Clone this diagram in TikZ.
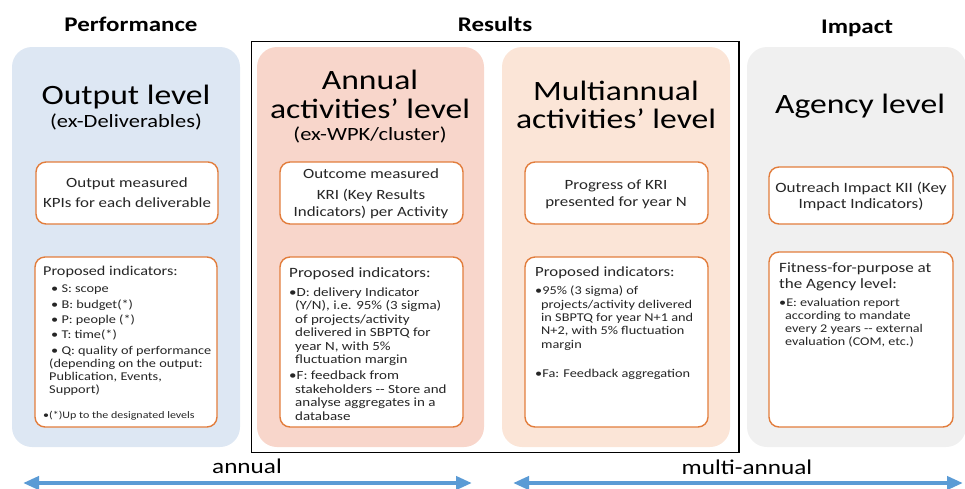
\documentclass[tikz,border=0pt]{standalone}
\usepackage{fontspec}
\setmainfont{Carlito}[FakeStretch=1.2]
\usetikzlibrary{arrows.meta}
\definecolor{pblue}{HTML}{DDE7F3}
\definecolor{psalmon}{HTML}{F8D6CB}
\definecolor{ppeach}{HTML}{FBE5D7}
\definecolor{pgrey}{HTML}{F0F0F0}
\definecolor{bord}{HTML}{E27D3C}
\definecolor{arr}{HTML}{5B9BD5}
\definecolor{txt}{HTML}{262626}
\newcommand{\fs}[2]{\fontsize{#1}{#2}\selectfont}
\tikzset{
  panel/.style={rounded corners=20pt},
  wbox/.style={draw=bord, line width=1.4pt, fill=white, rounded corners=10pt},
  heading/.style={font=\fs{20.8}{24}\bfseries, anchor=base, inner sep=0pt},
  title/.style={font=\fs{28}{32}, anchor=base, inner sep=0pt},
  subtitle/.style={font=\fs{18.7}{22}, anchor=base, inner sep=0pt},
  boxtext/.style={font=\fs{14.1}{17}, text=txt, align=center, anchor=base, inner sep=0pt},
  listtext/.style={font=\fs{12.5}{13.5}, text=txt, align=left, anchor=base west, inner sep=0pt},
  axislabel/.style={font=\fs{21}{24}, anchor=base, inner sep=0pt},
  timearrow/.style={draw=arr, line width=4.5pt, {Triangle[length=16pt,width=13pt]}-{Triangle[length=16pt,width=13pt]}},
}
\begin{document}
\begin{tikzpicture}[x=1pt,y=-1pt]
\useasboundingbox (0,0) rectangle (965,488);
\clip (0,0) rectangle (965,488);
% panels
\fill[pblue,panel] (12,47) rectangle (240,447);
\fill[psalmon,panel] (257,47) rectangle (484,447);
\fill[ppeach,panel] (502,47) rectangle (730,447);
\fill[pgrey,panel] (747,47) rectangle (966,447);
% results frame
\draw[line width=1.6pt] (251.5,41.5) rectangle (739,452.5);
% headings
\node[heading] (hperf) at (131,31) {Performance};
\node[heading] (hres) at (495,31) {Results};
\node[heading] (himp) at (857,33) {Impact};
% titles
\node[title] (t1) at (126,104) {Output level};
\node[subtitle] (s1) at (126,127) {(ex-Deliverables)};
\node[title] (t2a) at (370,89) {Annual};
\node[title] (t2b) at (370,118) {activities’ level};
\node[subtitle] (s2) at (370,140) {(ex-WPK/cluster)};
\node[title] (t3a) at (616,100) {Multiannual};
\node[title] (t3b) at (616,128) {activities’ level};
\node[title] (t4) at (860,113) {Agency level};
% white boxes
\draw[wbox] (36,162) rectangle (218,224);
\draw[wbox] (35,257) rectangle (217,427);
\draw[wbox] (280,162) rectangle (463,224);
\draw[wbox] (280,257) rectangle (463,427);
\draw[wbox] (525,162) rectangle (708,224);
\draw[wbox] (525,257) rectangle (708,427);
\draw[wbox] (769,167) rectangle (953,224);
\draw[wbox] (769,252) rectangle (953,427);
% box texts (top) -- anchor base = baseline of the last line
\node[boxtext] (b1a) at (127,207) {Output measured\\[3pt]KPIs for each deliverable};
\node[boxtext] (b2a) at (371,216) {Outcome measured\\[4pt]KRI (Key Results\\Indicators) per Activity};
\node[boxtext] (b3a) at (616,206) {Progress of KRI\\presented for year N};
\node[boxtext, font=\fs{14.2}{16}] (b4a) at (861,208) {Outreach Impact KII (Key\\Impact Indicators)};
% box texts (bottom)
\node[listtext, font=\fs{13.5}{16}] (p1h) at (43,275) {Proposed indicators:};
\node[listtext, font=\fs{11.9}{13}] (p1l) at (49,393) {%
 \,• S: scope\\[2.3pt]
 \,• B: budget(*)\\[2.3pt]
 \,• P: people (*)\\[2.3pt]
 \,• T: time(*)\\[2.3pt]
 \,• Q: quality of performance\\
 (depending on the output:\\
 Publication, Events,\\
 Support)};
\node[listtext, font=\fs{10}{12}] (p1f) at (43,418) {•(*)Up to the designated levels};
\node[listtext, font=\fs{14.2}{17}] (p2h) at (289,277) {Proposed indicators:};
\node[listtext] (p2l) at (289,420) {%
 •D: delivery Indicator\\
 \hspace*{6pt}(Y/N), i.e. 95\% (3 sigma)\\
 \hspace*{6pt}of projects/activity\\
 \hspace*{6pt}delivered in SBPTQ for\\
 \hspace*{6pt}year N, with 5\%\\
 \hspace*{6pt}fluctuation margin\\[2.5pt]
 •F: feedback from\\
 \hspace*{6pt}stakeholders -{}- Store and\\
 \hspace*{6pt}analyse aggregates in a\\
 \hspace*{6pt}database};
\node[listtext, font=\fs{14}{17}] (p3h) at (535,276) {Proposed indicators:};
\node[listtext, font=\fs{11.9}{13.3}] (p3l) at (535,377) {%
 •95\% (3 sigma) of\\
 \hspace*{6pt}projects/activity delivered\\
 \hspace*{6pt}in SBPTQ for year N+1 and\\
 \hspace*{6pt}N+2, with 5\% fluctuation\\
 \hspace*{6pt}margin\\[15.7pt]
 •Fa: Feedback aggregation};
\node[listtext, font=\fs{14.2}{16.5}] (p4h) at (779,288.5) {Fitness-for-purpose at\\the Agency level:};
\node[listtext, font=\fs{11.8}{13}] (p4l) at (779,345) {%
 •E: evaluation report\\
 \hspace*{6pt}according to mandate\\
 \hspace*{6pt}every 2 years -{}- external\\
 \hspace*{6pt}evaluation (COM, etc.)};
% bottom axis
\node[axislabel] (lann) at (247,473) {annual};
\node[axislabel] (lmulti) at (747,474) {multi-annual};
\coordinate (a1) at (23,483);
\coordinate (a2) at (472,483);
\coordinate (m1) at (513,483);
\coordinate (m2) at (963,483);
\draw[timearrow] (a1) -- (a2);
\draw[timearrow] (m1) -- (m2);
\end{tikzpicture}
\end{document}
